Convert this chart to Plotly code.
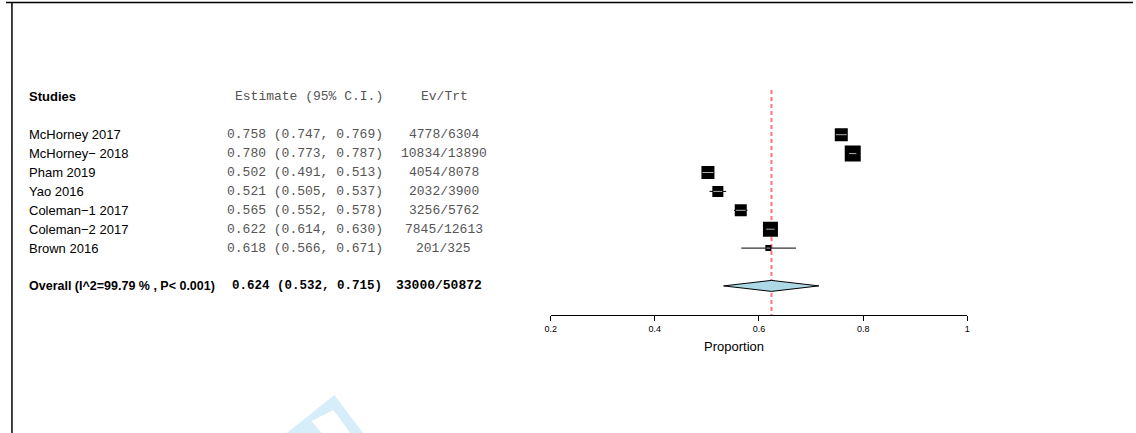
import plotly.graph_objects as go

# ---- data ----
studies = ["McHorney 2017", "McHorney\u2212 2018", "Pham 2019", "Yao 2016",
           "Coleman\u22121 2017", "Coleman\u22122 2017", "Brown 2016"]
estimate = [0.758, 0.780, 0.502, 0.521, 0.565, 0.622, 0.618]
ci_low = [0.747, 0.773, 0.491, 0.505, 0.552, 0.614, 0.566]
ci_high = [0.769, 0.787, 0.513, 0.537, 0.578, 0.630, 0.671]
events = [4778, 10834, 4054, 2032, 3256, 7845, 201]
totals = [6304, 13890, 8078, 3900, 5762, 12613, 325]

overall_label = "Overall (I^2=99.79 % , P< 0.001)"
overall_est = 0.624
overall_low = 0.532
overall_high = 0.715
overall_events = 33000
overall_total = 50872

tick_vals = [0.2, 0.4, 0.6, 0.8, 1.0]
tick_text = ["0.2", "0.4", "0.6", "0.8", "1"]

# ---- styling / layout ----
W, H = 1136, 433
box_px = [13, 16, 13, 11, 12, 15, 6]        # square side per study (weight)
row_px0, row_step = 134.7, 18.9               # pixel centre of first row, row pitch
x_px0, x_px1 = 549, 969                        # pixel span of 0.2 .. 1.0
px_per_unit = (x_px1 - x_px0) / (tick_vals[-1] - tick_vals[0])

y_top = -row_px0 / row_step
y_bot = (H - row_px0) / row_step
header_row = -2
overall_row = len(studies) + 1
axis_row = (315 - row_px0) / row_step

sans = "Liberation Sans, Arial, sans-serif"
mono = "Liberation Mono, Courier New, monospace"

fig = go.Figure()

rows = list(range(len(studies)))

# confidence interval lines
for r, lo, hi in zip(rows, ci_low, ci_high):
    fig.add_trace(go.Scatter(x=[lo, hi], y=[r, r], mode="lines",
                             line=dict(color="black", width=1),
                             hoverinfo="skip", showlegend=False))

# study squares
fig.add_trace(go.Scatter(x=estimate, y=rows, mode="markers",
                         marker=dict(symbol="square", size=box_px, color="black",
                                     opacity=1, line=dict(width=0)),
                         showlegend=False))

# CI segment visible inside each square
for r, e, lo, hi, s in zip(rows, estimate, ci_low, ci_high, box_px):
    half = (s / 2 - 1) / px_per_unit
    a, b = max(lo, e - half), min(hi, e + half)
    if b > a:
        fig.add_trace(go.Scatter(x=[a, b], y=[r, r], mode="lines",
                                 line=dict(color="#b0b0b0", width=1),
                                 hoverinfo="skip", showlegend=False))

# pooled estimate diamond
dh = 5.5 / row_step
fig.add_trace(go.Scatter(
    x=[overall_low, overall_est, overall_high, overall_est, overall_low],
    y=[overall_row, overall_row - dh, overall_row, overall_row + dh, overall_row],
    mode="lines", fill="toself", fillcolor="#ADD8E6",
    line=dict(color="black", width=1), hoverinfo="skip", showlegend=False))

# reference line at pooled estimate, behind the marks
fig.add_shape(type="line", xref="x", yref="y", layer="below",
              x0=overall_est, x1=overall_est,
              y0=(90 - row_px0) / row_step, y1=axis_row,
              line=dict(color="#ff7575", width=2, dash="4px,3px"))

# ---- text columns ----
def px(xp):
    return xp / W

ann = []
ann.append(dict(x=px(21), y=header_row, text="<b>Studies</b>", xanchor="left",
                font=dict(family=sans, size=13, color="black")))
ann.append(dict(x=px(382), y=header_row, text="Estimate (95% C.I.)", xanchor="right",
                font=dict(family=mono, size=13, color="#555555")))
ann.append(dict(x=px(442), y=header_row, text="Ev/Trt", xanchor="center",
                font=dict(family=mono, size=13, color="#555555")))

for r, name, e, lo, hi, ev, n in zip(rows, studies, estimate, ci_low, ci_high, events, totals):
    ann.append(dict(x=px(21), y=r, text=name, xanchor="left",
                    font=dict(family=sans, size=13, color="black")))
    ann.append(dict(x=px(382), y=r, text=f"{e:.3f} ({lo:.3f}, {hi:.3f})", xanchor="right",
                    font=dict(family=mono, size=13, color="#555555")))
    ann.append(dict(x=px(441), y=r, text=f"{ev}/{n}", xanchor="center",
                    font=dict(family=mono, size=13, color="#555555")))

ann.append(dict(x=px(21), y=overall_row, text=f"<b>{overall_label}</b>", xanchor="left",
                font=dict(family=sans, size=12.5, color="black")))
ann.append(dict(x=px(381), y=overall_row,
                text=f"<b>{overall_est:.3f} ({overall_low:.3f}, {overall_high:.3f})</b>",
                xanchor="right", font=dict(family=mono, size=12.5, color="black")))
ann.append(dict(x=px(436), y=overall_row, text=f"<b>{overall_events}/{overall_total}</b>",
                xanchor="center", font=dict(family=mono, size=13, color="black")))

ann.append(dict(x=px(734), y=(346 - row_px0) / row_step, text="Proportion",
                xanchor="center", font=dict(family=sans, size=13, color="black")))

for a in ann:
    a.update(xref="paper", yref="y", showarrow=False, yanchor="middle")

# faint watermark chevron near the bottom edge
wm = [(283, 433), (331, 395), (360, 433), (347, 433), (330, 410),
      (308, 421), (318, 433)]
path = "M " + " L ".join(f"{px(xp)},{1 - yp / H}" for xp, yp in wm) + " Z"
fig.add_shape(type="path", xref="paper", yref="paper", path=path,
              fillcolor="#d6eef9", line=dict(width=0), layer="below")

# frame (top and left edges)
fig.add_shape(type="line", xref="paper", yref="paper", x0=0, x1=1,
              y0=1 - 2.5 / H, y1=1 - 2.5 / H, line=dict(color="black", width=1.5))
fig.add_shape(type="line", xref="paper", yref="paper", x0=px(6), x1=px(6),
              y0=0, y1=1 - 2 / H, line=dict(color="black", width=1.5))

fig.update_layout(
    width=W, height=H,
    margin=dict(l=0, r=0, t=0, b=0),
    paper_bgcolor="white", plot_bgcolor="white",
    annotations=ann,
    xaxis=dict(domain=[px(x_px0), px(x_px1)], range=[tick_vals[0], tick_vals[-1]],
               anchor="free", position=1 - 315 / H,
               showline=True, linecolor="black", linewidth=1,
               ticks="outside", ticklen=5, tickcolor="black", tickwidth=1,
               tickvals=tick_vals, ticktext=tick_text,
               tickfont=dict(family=sans, size=9, color="black"),
               showgrid=False, zeroline=False, fixedrange=True),
    yaxis=dict(domain=[0, 1], range=[y_bot, y_top], visible=False,
               showgrid=False, zeroline=False, fixedrange=True),
)

fig.write_html("out.html")
